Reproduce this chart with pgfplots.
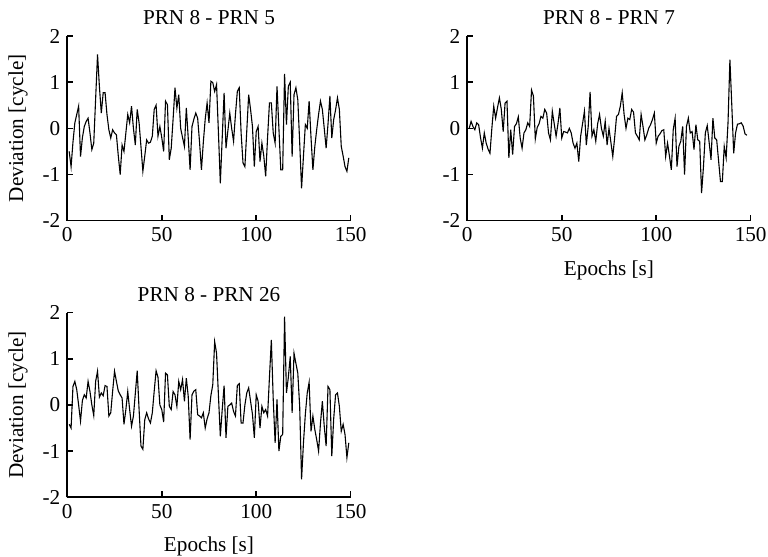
\documentclass[border=0pt]{standalone}
\usepackage{fontspec}
\setmainfont{Liberation Serif}
\usepackage{pgfplots}
\usepackage{pgfplotstable}
\pgfplotsset{compat=1.18}

\pgfplotstableread{
v
-0.5
-0.83
-0.3
0.12
0.3
0.48
-0.61
-0.2
0.04
0.15
0.22
-0.1
-0.46
-0.32
0.64
1.6
0.9
0.33
0.77
0.77
0.3
-0.03
-0.21
-0.03
-0.1
-0.14
-0.6
-1.0
-0.36
-0.5
-0.1
0.3
0.12
0.48
0.0
-0.36
0.41
0.12
-0.4
-0.93
-0.6
-0.25
-0.32
-0.3
-0.17
0.41
0.5
-0.17
0.04
-0.2
-0.5
0.59
0.51
-0.68
-0.43
0.2
0.88
0.44
0.73
0.0
-0.2
-0.39
0.44
-0.2
-0.9
0.04
0.2
0.33
0.22
-0.3
-0.9
-0.3
0.2
0.55
0.12
1.02
0.99
0.8
0.95
-0.1
-1.19
-0.2
0.77
-0.43
-0.05
0.33
0.0
-0.28
0.3
0.8
0.88
-0.1
-0.75
-0.83
-0.05
0.73
0.41
0.04
-0.83
-0.07
0.04
-0.72
-0.32
-0.6
-1.04
-0.2
0.55
0.55
-0.1
-0.32
0.91
0.0
-0.9
-0.9
1.18
0.08
0.91
1.0
-0.61
0.73
0.88
0.62
-0.3
-1.3
-0.6
0.08
0.0
0.59
-0.2
-0.9
-0.4
-0.03
0.3
0.59
0.41
0.0
-0.43
0.1
0.7
-0.21
0.19
0.4
0.66
0.41
-0.39
-0.6
-0.83
-0.93
-0.64
}\dataA

\pgfplotstableread{
v
0.0
0.15
0.04
-0.03
0.12
0.08
-0.2
-0.43
-0.1
-0.32
-0.45
-0.54
0.0
0.48
0.22
0.45
0.66
0.41
-0.07
0.55
0.59
-0.64
-0.03
-0.57
0.04
0.1
0.25
-0.21
-0.43
-0.1
-0.03
0.12
0.04
0.83
0.7
-0.23
0.02
0.1
0.26
0.22
0.41
0.33
-0.1
-0.25
0.37
0.1
-0.17
0.1
0.44
-0.21
-0.07
-0.08
-0.1
0.0
-0.1
-0.32
-0.43
-0.32
-0.72
-0.17
0.1
0.37
-0.36
0.04
0.79
-0.17
-0.03
-0.28
0.1
0.3
0.0
-0.17
0.15
-0.36
0.0
-0.3
-0.61
-0.2
0.26
0.3
0.48
0.77
0.3
0.0
0.22
0.19
0.41
0.35
-0.1
-0.17
-0.25
0.3
0.04
-0.25
-0.14
0.0
0.08
0.19
0.33
-0.32
-0.17
-0.12
-0.05
-0.03
-0.61
-0.32
-0.6
-0.9
-0.03
0.22
-0.83
-0.39
-0.28
0.04
-1.0
0.04
0.22
-0.1
-0.07
-0.46
0.08
-0.25
-0.28
-1.4
-0.83
-0.1
0.06
-0.3
-0.68
0.22
-0.21
-0.25
-0.7
-1.15
-1.15
-0.39
-0.64
0.12
1.49
0.5
-0.54
-0.1
0.09
0.1
0.12
0.05
-0.12
-0.15
}\dataB

\pgfplotstableread{
v
-0.42
-0.5
0.4
0.51
0.33
0.0
-0.35
0.1
0.22
0.15
0.51
0.29
0.0
-0.23
0.51
0.73
0.17
0.26
0.2
0.42
0.4
-0.24
-0.17
0.3
0.73
0.51
0.3
0.22
0.15
-0.42
-0.1
0.29
-0.1
-0.46
-0.24
0.25
0.74
-0.1
-0.89
-0.96
-0.32
-0.17
-0.3
-0.39
-0.17
0.3
0.74
0.6
0.0
-0.1
-0.37
0.69
0.65
-0.03
-0.1
0.29
0.22
-0.03
0.51
0.33
0.55
0.08
0.58
0.19
-0.75
0.22
0.3
0.33
-0.21
-0.24
-0.28
-0.17
-0.5
-0.3
-0.17
0.2
0.44
1.37
1.12
0.2
-0.68
-0.1
0.42
-0.71
-0.03
0.0
0.04
-0.14
-0.24
0.42
0.46
-0.39
-0.39
0.0
0.26
0.37
0.08
-0.2
-0.71
0.22
0.08
-0.5
-0.03
-0.17
-0.1
-0.24
0.6
1.41
0.12
-0.82
0.12
-1.0
-0.68
-0.64
1.91
0.26
0.6
1.05
-0.17
1.12
0.9
0.69
-0.03
-1.61
-0.82
-0.2
0.26
0.49
-0.57
-0.24
-0.53
-0.75
-1.0
-0.4
0.08
-0.46
-0.89
0.4
0.33
-1.11
-0.3
0.22
0.26
-0.03
-0.57
-0.42
-0.64
-1.14
-0.82
}\dataC

\pgfplotsset{
  myax/.style={
    scale only axis,
    width=141.7pt, height=92.35pt,
    xmin=0, xmax=150, ymin=-2, ymax=2,
    axis x line*=bottom, axis y line*=left,
    axis line style={line width=0.8pt, black},
    tick style={line width=0.8pt, black},
    tick align=inside,
    major tick length=2.9pt,
    xtick={0,50,100,150}, xticklabels={0,50,100,150},
    ytick={-2,-1,0,1,2}, yticklabels={-2,-1,0,1,2},
    tick label style={font=\fontsize{10.6}{12}\selectfont},
    every axis title/.style={at={(axis description cs:0.5,1)}, anchor=base, yshift=5.5pt, font=\fontsize{10.6}{12}\selectfont},
    every axis x label/.style={at={(axis description cs:0.5,0)}, anchor=base, yshift=-27.2pt, font=\fontsize{10.6}{12}\selectfont},
    every axis y label/.style={at={(axis description cs:-0.156,0.5)}, rotate=90, anchor=base, font=\fontsize{10.6}{12}\selectfont},
    clip=false,
  },
  myline/.style={black, line width=0.55pt, no marks},
}

\begin{document}
\begin{tikzpicture}
\begin{axis}[myax, at={(0pt,0pt)}, anchor=south west,
  title={PRN 8 - PRN 5}, ylabel={Deviation [cycle]}]
\addplot[myline] table[x expr=\coordindex+1, y=v]{\dataA};
\end{axis}
\begin{axis}[myax, at={(200pt,0pt)}, anchor=south west,
  title={PRN 8 - PRN 7}, xlabel={Epochs [s]}]
\addplot[myline] table[x expr=\coordindex+1, y=v]{\dataB};
\end{axis}
\begin{axis}[myax, at={(0pt,-138.3pt)}, anchor=south west,
  title={PRN 8 - PRN 26}, xlabel={Epochs [s]}, ylabel={Deviation [cycle]}]
\addplot[myline] table[x expr=\coordindex+1, y=v]{\dataC};
\end{axis}
\pgfresetboundingbox
\path[use as bounding box] (-33.65pt,-168.15pt) rectangle (350.35pt,110.35pt);
\end{tikzpicture}
\end{document}
